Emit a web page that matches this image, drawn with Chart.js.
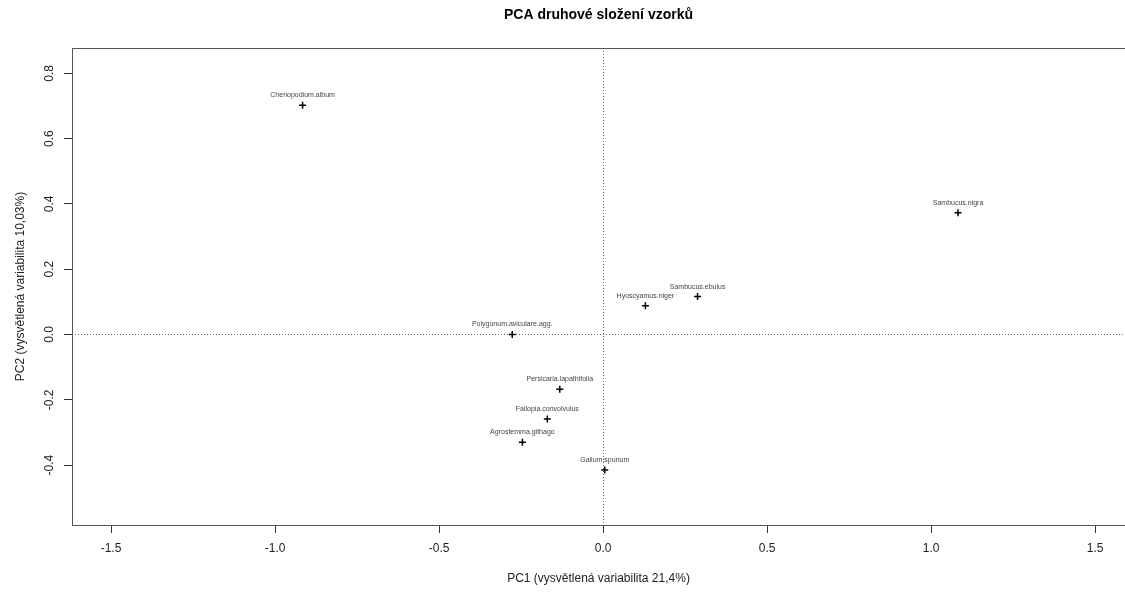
<!DOCTYPE html>
<html>
<head>
<meta charset="utf-8">
<script src="https://cdn.jsdelivr.net/npm/chart.js@4.4.1/dist/chart.umd.min.js"></script>
<style>
  body { margin: 0; background: #fff; }
  #wrap { width: 1125px; height: 592px; }
</style>
</head>
<body>
<div id="wrap"><canvas id="pcaChart" width="1125" height="592"></canvas></div>
<script>
// Druhy a jejich souřadnice (PC1, PC2)
const druhy = [
  'Chenopodium.album',
  'Sambucus.nigra',
  'Sambucus.ebulus',
  'Hyoscyamus.niger',
  'Polygonum.aviculare.agg.',
  'Persicaria.lapathifolia',
  'Fallopia.convolvulus',
  'Agrostemma.githago',
  'Galium.spurium'
];
const pc1 = [-0.916, 1.082, 0.288, 0.129, -0.277, -0.132, -0.170, -0.246, 0.005];
const pc2 = [0.702, 0.373, 0.116, 0.088, 0.000, -0.168, -0.259, -0.330, -0.415];

// popisky os
const xTicks = [-1.5, -1.0, -0.5, 0.0, 0.5, 1.0, 1.5];
const yTicks = [-0.4, -0.2, 0.0, 0.2, 0.4, 0.6, 0.8];

const FONT = 'Liberation Sans, Arial, Helvetica, sans-serif';

const body = {
  id: 'pcaExtras',
  beforeDatasetsDraw(chart) {
    const { ctx, chartArea: a, scales: { x, y } } = chart;
    ctx.save();
    // tečkované osy v nule
    ctx.strokeStyle = '#666';
    ctx.lineWidth = 1;
    ctx.setLineDash([1, 2]);
    const x0 = Math.round(x.getPixelForValue(0)) + 0.5;
    const y0 = Math.round(y.getPixelForValue(0)) + 0.5;
    ctx.beginPath();
    ctx.moveTo(x0, a.top); ctx.lineTo(x0, a.bottom);
    ctx.moveTo(a.left, y0); ctx.lineTo(a.right, y0);
    ctx.stroke();
    // rámeček grafu (pravá strana je mimo obrázek)
    ctx.setLineDash([]);
    ctx.strokeStyle = '#555';
    ctx.strokeRect(a.left + 0.5, a.top + 0.5, a.width + 20, a.height);
    ctx.restore();
  },
  afterDatasetsDraw(chart) {
    const { ctx } = chart;
    const meta = chart.getDatasetMeta(0);
    ctx.save();
    ctx.font = '7px ' + FONT;
    ctx.fillStyle = '#444';
    ctx.textAlign = 'center';
    ctx.textBaseline = 'middle';
    meta.data.forEach((pt, i) => {
      ctx.fillText(druhy[i], pt.x, pt.y - 10);
    });
    ctx.restore();
  }
};

new Chart(document.getElementById('pcaChart'), {
  type: 'scatter',
  data: {
    datasets: [{
      data: pc1.map((v, i) => ({ x: v, y: pc2[i] })),
      pointStyle: 'cross',
      pointRadius: 3.5,
      borderWidth: 1.5,
      borderColor: '#000',
      backgroundColor: '#000'
    }]
  },
  options: {
    responsive: false,
    devicePixelRatio: 1,
    animation: false,
    events: [],
    layout: { autoPadding: false, padding: 0 },
    plugins: {
      legend: { display: false },
      tooltip: { enabled: false },
      title: {
        display: true,
        fullSize: false,
        text: 'PCA druhové složení vzorků',
        color: '#000',
        font: { family: FONT, size: 14, weight: 'bold' },
        padding: { top: 7, bottom: 24.2 }
      }
    },
    scales: {
      x: {
        type: 'linear',
        min: -1.619,
        max: 1.591,
        afterBuildTicks: s => { s.ticks = xTicks.map(v => ({ value: v })); },
        afterFit: s => { s.height = 67; s.paddingLeft = 0; s.paddingRight = 0; },
        border: { display: false },
        grid: { drawOnChartArea: false, drawTicks: true, tickLength: 8, tickColor: '#333' },
        ticks: {
          color: '#222',
          font: { family: FONT, size: 12 },
          padding: 8,
          autoSkip: false,
          maxRotation: 0,
          callback: v => v.toFixed(1)
        },
        title: {
          display: true,
          text: 'PC1 (vysvětlená variabilita 21,4%)',
          color: '#222',
          font: { family: FONT, size: 12 },
          padding: { top: 0, bottom: 6 }
        }
      },
      y: {
        type: 'linear',
        min: -0.5835,
        max: 0.8775,
        afterBuildTicks: s => { s.ticks = yTicks.map(v => ({ value: v })); },
        afterFit: s => { s.width = 72; s.paddingTop = 0; s.paddingBottom = 0; },
        border: { display: false },
        grid: { drawOnChartArea: false, drawTicks: true, tickLength: 8, tickColor: '#333' },
        ticks: {
          color: '#222',
          font: { family: FONT, size: 12 },
          padding: 4,
          autoSkip: false,
          minRotation: 90,
          maxRotation: 90,
          crossAlign: 'center',
          callback: v => v.toFixed(1)
        },
        title: {
          display: true,
          text: 'PC2 (vysvětlená variabilita 10,03%)',
          color: '#222',
          font: { family: FONT, size: 12 },
          padding: { top: 13, bottom: 0 }
        }
      }
    }
  },
  plugins: [body]
});
</script>
</body>
</html>
